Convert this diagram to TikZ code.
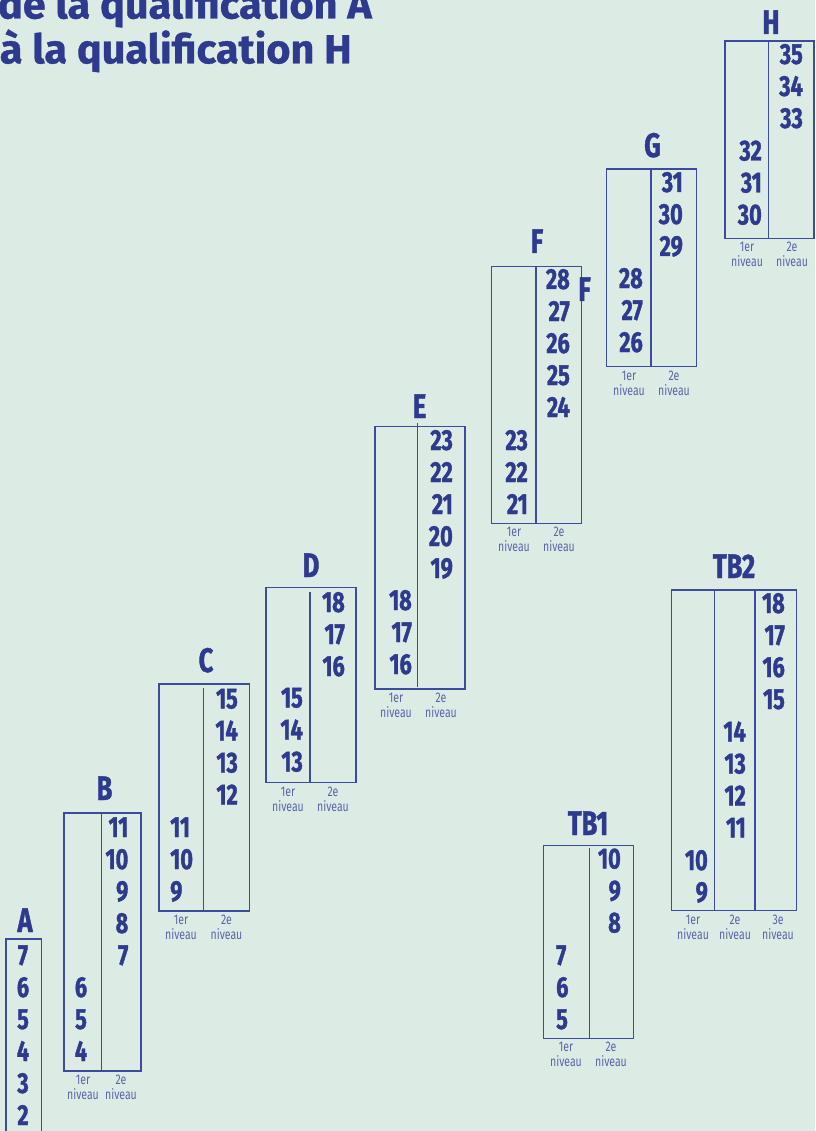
\documentclass[tikz,border=0pt]{standalone}
\usepackage{fontspec}
\setmainfont{Fira Sans}
\newfontfamily\qualfont[FakeStretch=0.75, BoldFeatures={FakeBold=1.2}]{Fira Sans}
\newfontfamily\headfont[FakeStretch=1.02, BoldFeatures={FakeBold=0.8}]{Fira Sans}
\usetikzlibrary{positioning}
\definecolor{QualBg}{HTML}{DCEBE3}
\definecolor{QualBlue}{HTML}{2E3A8E}
\definecolor{QualLine}{HTML}{3D4B9C}
\definecolor{QualSoft}{HTML}{5A64A8}
\begin{document}
\begin{tikzpicture}[
    x=1pt, y=-1pt,
    frame/.style={draw=QualLine, line width=1.2pt},
    num/.style={inner sep=0pt, text=QualBlue,
                font=\qualfont\bfseries\fontsize{29}{29}\selectfont},
    grade/.style={inner sep=0pt, text=QualBlue, anchor=base,
                  font=\qualfont\bfseries\fontsize{34}{34}\selectfont},
    level/.style={inner sep=0pt, text=QualSoft, align=center, anchor=north,
                  font=\qualfont\fontsize{14}{15}\selectfont},
    headline/.style={inner sep=0pt, text=QualBlue, anchor=base east,
                     font=\headfont\bfseries\fontsize{40.6}{40.6}\selectfont}
  ]
    \useasboundingbox (0,0) rectangle (815,1131);
    \fill[QualBg] (0,0) rectangle (815,1131);
    \clip (0,0) rectangle (815,1131);

    \node[headline] (title1) at (372,18.5) {de la qualification A};
    \node[headline] (title2) at (352,63.3) {à la qualification H};

    % A
    \draw[frame] (6,939) rectangle (41.5,1140);
    \node[grade] (gA) at (25,932) {A};
    \foreach \n [count=\k from 0] in {7,6,5,4,3,2}
      \node[num, anchor=base] (A\n) at (23,965+32*\k) {\n};

    % B
    \draw[frame] (64,813) rectangle (141,1071);
    \draw[frame] (101.5,813) -- (101.5,1071);
    \node[grade] (gB) at (104.5,800) {B};
    \foreach \n [count=\k from 0] in {11,10,9,8,7}
      \node[num, anchor=base east] (B\n) at (128.5,837+32*\k) {\n};
    \foreach \n [count=\k from 0] in {6,5,4}
      \node[num, anchor=base] (B\n) at (81,997+32*\k) {\n};
    \node[level] (Blv1) at (83,1075) {1er\\niveau};
    \node[level] (Blv2) at (121,1075) {2e\\niveau};

    % C
    \draw[frame] (159,684) rectangle (249.5,911);
    \draw[frame] (203.3,688) -- (203.3,911);
    \node[grade] (gC) at (206,672) {C};
    \foreach \n [count=\k from 0] in {15,14,13,12}
      \node[num, anchor=base east] (C\n) at (238,708.5+32*\k) {\n};
    \foreach \n [count=\k from 0] in {11,10,9}
      \node[num, anchor=base west] (C\n) at (170,837+32*\k) {\n};
    \node[level] (Clv1) at (181,915) {1er\\niveau};
    \node[level] (Clv2) at (226.5,915) {2e\\niveau};

    % D
    \draw[frame] (266,587.5) rectangle (356,782.5);
    \draw[frame] (310,592) -- (310,782.5);
    \node[grade] (gD) at (311,577) {D};
    \foreach \n [count=\k from 0] in {18,17,16}
      \node[num, anchor=base east] (D\n) at (345,612+32*\k) {\n};
    \foreach \n [count=\k from 0] in {15,14,13}
      \node[num, anchor=base east] (D\n) at (303,707.5+32*\k) {\n};
    \node[level] (Dlv1) at (288,787) {1er\\niveau};
    \node[level] (Dlv2) at (333,787) {2e\\niveau};

    % E
    \draw[frame] (375,426.5) rectangle (465,689);
    \draw[frame] (417.7,423) -- (417.7,687);
    \node[grade] (gE) at (419.5,418) {E};
    \foreach \n [count=\k from 0] in {23,22,21,20,19}
      \node[num, anchor=base east] (E\n) at (453,450+32*\k) {\n};
    \foreach \n [count=\k from 0] in {18,17,16}
      \node[num, anchor=base east] (E\n) at (412,610+32*\k) {\n};
    \node[level] (Elv1) at (396,693) {1er\\niveau};
    \node[level] (Elv2) at (441,693) {2e\\niveau};

    % F
    \draw[frame] (491.7,266.7) rectangle (581.7,523.3);
    \draw[frame] (536,266.7) -- (536,523.3);
    \node[grade] (gF) at (537,253) {F};
    \node[grade] (gF2) at (584.5,301) {F};
    \foreach \n [count=\k from 0] in {28,27,26,25,24}
      \node[num, anchor=base east] (F\n) at (570,289+32*\k) {\n};
    \foreach \n [count=\k from 0] in {23,22,21}
      \node[num, anchor=base east] (F\n) at (528,450+32*\k) {\n};
    \node[level] (Flv1) at (514,527) {1er\\niveau};
    \node[level] (Flv2) at (559,527) {2e\\niveau};

    % G
    \draw[frame] (606.7,169) rectangle (696.7,366.7);
    \draw[frame] (651,169) -- (651,366.7);
    \node[grade] (gG) at (652.5,157) {G};
    \foreach \n [count=\k from 0] in {31,30,29}
      \node[num, anchor=base east] (G\n) at (683,192+32*\k) {\n};
    \foreach \n [count=\k from 0] in {28,27,26}
      \node[num, anchor=base east] (G\n) at (643,288+32*\k) {\n};
    \node[level] (Glv1) at (629,371) {1er\\niveau};
    \node[level] (Glv2) at (674,371) {2e\\niveau};

    % H
    \draw[frame] (725,41) rectangle (814,238.3);
    \draw[frame] (768.3,41) -- (768.3,238.3);
    \node[grade] (gH) at (771,34) {H};
    \foreach \n [count=\k from 0] in {35,34,33}
      \node[num, anchor=base east] (H\n) at (803,64+32*\k) {\n};
    \foreach \n [count=\k from 0] in {32,31,30}
      \node[num, anchor=base east] (H\n) at (762,160.5+32*\k) {\n};
    \node[level] (Hlv1) at (747,242) {1er\\niveau};
    \node[level] (Hlv2) at (792,242) {2e\\niveau};

    % TB1
    \draw[frame] (543.3,845.7) rectangle (633.3,1038.3);
    \draw[frame] (589.3,848) -- (589.3,1039);
    \node[grade] (gTB1) at (588,835) {TB1};
    \foreach \n [count=\k from 0] in {10,9,8}
      \node[num, anchor=base east] (TBa\n) at (621,868.5+32*\k) {\n};
    \foreach \n [count=\k from 0] in {7,6,5}
      \node[num, anchor=base west] (TBa\n) at (556,965+32*\k) {\n};
    \node[level] (TBalv1) at (566,1042) {1er\\niveau};
    \node[level] (TBalv2) at (611,1042) {2e\\niveau};

    % TB2
    \draw[frame] (671.7,590) rectangle (796.7,910.7);
    \draw[frame] (714.3,590) -- (714.3,910.7);
    \draw[frame] (755,590) -- (755,910.7);
    \node[grade] (gTB2) at (734,578) {TB2};
    \foreach \n [count=\k from 0] in {18,17,16,15}
      \node[num, anchor=base east] (TBb\n) at (785,613+32*\k) {\n};
    \foreach \n [count=\k from 0] in {14,13,12,11}
      \node[num, anchor=base east] (TBb\n) at (746,741.5+32*\k) {\n};
    \foreach \n [count=\k from 0] in {10,9}
      \node[num, anchor=base east] (TBb\n) at (708,870+32*\k) {\n};
    \node[level] (TBblv1) at (693,915) {1er\\niveau};
    \node[level] (TBblv2) at (735,915) {2e\\niveau};
    \node[level] (TBblv3) at (778,915) {3e\\niveau};
  \end{tikzpicture}
\end{document}
